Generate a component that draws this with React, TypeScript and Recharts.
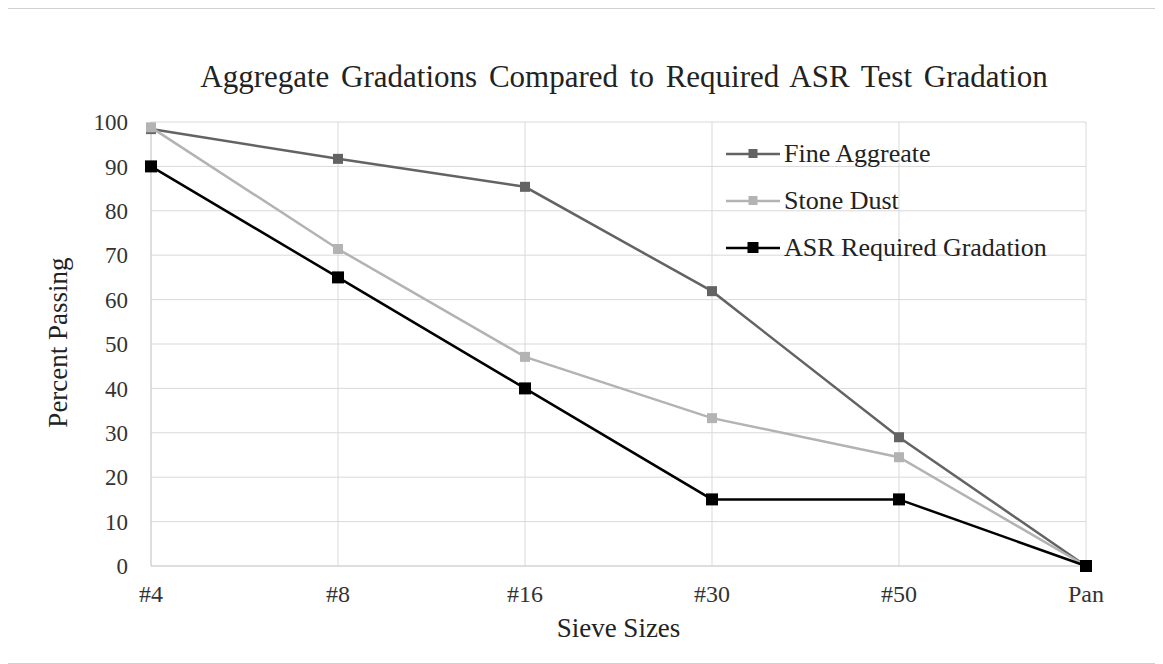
import React from 'react';
import { LineChart, Line, XAxis, YAxis, CartesianGrid, Legend } from 'recharts';

const sieves = ['#4', '#8', '#16', '#30', '#50', 'Pan'];
const fineAggregate = [98.4, 91.7, 85.4, 61.9, 29.0, 0];
const stoneDust = [98.8, 71.4, 47.1, 33.3, 24.5, 0];
const asrRequired = [90, 65, 40, 15, 15, 0];
const yTicks = [0, 10, 20, 30, 40, 50, 60, 70, 80, 90, 100];

const series = [
  { key: 'fine', name: 'Fine Aggreate', color: '#636363', size: 10 },
  { key: 'dust', name: 'Stone Dust', color: '#b3b3b3', size: 10 },
  { key: 'asr', name: 'ASR Required Gradation', color: '#000000', size: 12 },
];

const data = sieves.map((s, i) => ({
  sieve: s,
  fine: fineAggregate[i],
  dust: stoneDust[i],
  asr: asrRequired[i],
}));

const FONT = '"Liberation Serif", "Times New Roman", serif';

const squareDot = (color: string, size: number) => (props: any) => {
  const { cx, cy, index } = props;
  if (cx == null || cy == null) return <g key={index} />;
  return <rect key={index} x={cx - size / 2} y={cy - size / 2} width={size} height={size} fill={color} />;
};

const LegendBox = () => (
  <div style={{ fontFamily: FONT, fontSize: 26, color: '#222', lineHeight: 1 }}>
    {series.map((s) => (
      <div key={s.key} style={{ display: 'flex', alignItems: 'center', height: 47 }}>
        <svg width={56} height={14} style={{ marginRight: 2 }}>
          <line x1={0} y1={7} x2={54} y2={7} stroke={s.color} strokeWidth={2.5} />
          <rect x={27 - s.size / 2 + 0.5} y={7 - s.size / 2} width={s.size - 1} height={s.size - 1} fill={s.color} />
        </svg>
        <span>{s.name}</span>
      </div>
    ))}
  </div>
);

export default function App() {
  return (
    <div
      style={{
        position: 'relative',
        width: 1153,
        height: 656,
        border: '1px solid #d0d0d0',
        boxSizing: 'border-box',
        background: '#fff',
        fontFamily: FONT,
        marginLeft: -1,
      }}
    >
      <div
        style={{
          position: 'absolute',
          top: 52,
          left: 0,
          width: 1232,
          textAlign: 'center',
          fontSize: 31,
          lineHeight: 1,
          color: '#222',
          wordSpacing: 4,
          whiteSpace: 'nowrap',
        }}
      >
        Aggregate Gradations Compared to Required ASR Test Gradation
      </div>
      <div
        style={{
          position: 'absolute',
          top: 606,
          left: 143,
          width: 935,
          textAlign: 'center',
          fontSize: 27,
          lineHeight: 1,
          color: '#222',
        }}
      >
        Sieve Sizes
      </div>
      <div
        style={{
          position: 'absolute',
          left: 50 - 100,
          top: 334 - 14,
          width: 200,
          textAlign: 'center',
          fontSize: 27,
          lineHeight: '27px',
          color: '#222',
          transform: 'rotate(-90deg)',
        }}
      >
        Percent Passing
      </div>
      <LineChart
        width={1150}
        height={650}
        data={data}
        margin={{ top: 113, right: 72, bottom: 63, left: 83 }}
      >
        <CartesianGrid stroke="#d9d9d9" strokeWidth={1} />
        <XAxis
          dataKey="sieve"
          height={30}
          tickLine={false}
          axisLine={{ stroke: '#d0d0d0' }}
          tickMargin={13}
          tick={{ fontSize: 24, fill: '#333', fontFamily: FONT }}
          interval={0}
        />
        <YAxis
          width={60}
          domain={[0, 100]}
          ticks={yTicks}
          tickLine={false}
          axisLine={{ stroke: '#d0d0d0' }}
          tickMargin={17}
          tick={{ fontSize: 23, fill: '#333', fontFamily: FONT }}
        />
        <Legend
          layout="horizontal"
          verticalAlign="middle"
          align="center"
          wrapperStyle={{ left: 718, top: 121, width: 380 }}
          content={<LegendBox />}
        />
        {series.map((s) => (
          <Line
            key={s.key}
            dataKey={s.key}
            name={s.name}
            stroke={s.color}
            strokeWidth={2.5}
            dot={squareDot(s.color, s.size)}
            activeDot={false}
            isAnimationActive={false}
          />
        ))}
      </LineChart>
    </div>
  );
}
